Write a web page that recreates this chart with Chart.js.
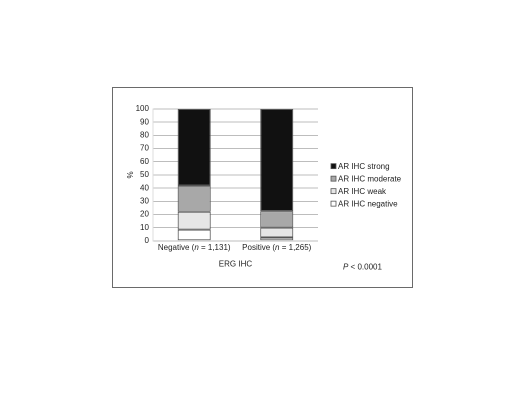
<!DOCTYPE html>
<html>
<head>
<meta charset="utf-8">
<script src="https://cdn.jsdelivr.net/npm/chart.js@4/dist/chart.umd.min.js"></script>
<style>
  html, body { margin: 0; padding: 0; background: #fff; }
  #wrap { position: relative; width: 520px; height: 402px; }
  #frame { position: absolute; left: 112px; top: 87px; width: 299px; height: 199px;
           border: 1.5px solid #6a6a6a; pointer-events: none; }
</style>
</head>
<body>
<div id="wrap">
  <canvas id="c"></canvas>
  <div id="frame"></div>
</div>
<script>
// ---- data ----
const categories = ['Negative (n = 1,131)', 'Positive (n = 1,265)'];
const seriesLabels = ['AR IHC negative', 'AR IHC weak', 'AR IHC moderate', 'AR IHC strong'];
const arNegative = [8.5, 2.5];
const arWeak = [13.5, 7.5];
const arModerate = [20, 12.5];
const arStrong = [58, 77.5];
const yTickStep = 10;
const yMax = 100;
const xTitle = 'ERG IHC';
const yTitle = '%';
const pValueText = '< 0.0001';

const FONT = "'Liberation Sans', Arial, Helvetica, sans-serif";
const TEXT = '#222';
const fills = ['#ffffff', '#e6e6e6', '#a8a8a8', '#111111'];
const seriesValues = [arNegative, arWeak, arModerate, arStrong];

const datasets = seriesLabels.map((lab, i) => ({
  label: lab,
  data: seriesValues[i],
  backgroundColor: fills[i],
  borderColor: '#555',
  borderWidth: 1,
  borderSkipped: false,
  barPercentage: 0.4,
  categoryPercentage: 1.0
}));

// custom legend + annotation + italic tick labels
const overlayPlugin = {
  id: 'overlay',
  afterDraw(chart) {
    const ctx = chart.ctx;
    const ca = chart.chartArea;
    ctx.save();
    ctx.textBaseline = 'middle';
    // x tick labels with italic n
    const xs = chart.scales.x;
    const ty = xs.top + 2 + 4.8;
    categories.forEach((lab, i) => {
      const px = xs.getPixelForValue(i);
      const m = lab.match(/^(.*\()(n)(.*)$/);
      const parts = m ? [[m[1], ''], [m[2], 'italic '], [m[3], '']] : [[lab, '']];
      let total = 0;
      parts.forEach(p => { ctx.font = p[1] + '8px ' + FONT; total += ctx.measureText(p[0]).width; });
      let x = px - total / 2;
      ctx.fillStyle = TEXT;
      ctx.textAlign = 'left';
      parts.forEach(p => { ctx.font = p[1] + '8px ' + FONT; ctx.fillText(p[0], x, ty); x += ctx.measureText(p[0]).width; });
    });
    // legend (reverse order: strong on top)
    const rows = chart.data.datasets.slice().reverse();
    const step = 12.5;
    const cy = (ca.top + ca.bottom) / 2 + 10;
    const y0 = cy - step * (rows.length - 1) / 2;
    const bx = ca.right + 13;
    ctx.font = '8px ' + FONT;
    rows.forEach((ds, i) => {
      const y = y0 + i * step;
      ctx.fillStyle = ds.backgroundColor;
      ctx.fillRect(bx, y - 2.5, 5, 5);
      ctx.strokeStyle = '#555';
      ctx.lineWidth = 0.8;
      ctx.strokeRect(bx, y - 2.5, 5, 5);
      ctx.fillStyle = TEXT;
      ctx.fillText(ds.label, bx + 7, y + 0.5);
    });
    // P value
    const px0 = ca.right + 25;
    const py = ca.bottom + 26.5;
    ctx.font = 'italic 8px ' + FONT;
    ctx.fillText('P', px0, py);
    const w = ctx.measureText('P ').width;
    ctx.font = '8px ' + FONT;
    ctx.fillText(pValueText, px0 + w, py);
    ctx.restore();
  }
};

new Chart(document.getElementById('c'), {
  type: 'bar',
  data: { labels: categories, datasets },
  plugins: [overlayPlugin],
  options: {
    responsive: true,
    maintainAspectRatio: false,
    animation: false,
    devicePixelRatio: 2,
    layout: { padding: { left: 126, top: 109, right: 202, bottom: 133 } },
    plugins: { legend: { display: false }, tooltip: { enabled: false } },
    scales: {
      x: {
        stacked: true,
        grid: { display: false, drawTicks: false },
        border: { display: false },
        ticks: { color: 'transparent', padding: 2, font: { family: FONT, size: 8 }, maxRotation: 0 },
        title: { display: true, text: xTitle, color: TEXT, font: { family: FONT, size: 8 }, padding: { top: 5, bottom: 0 } }
      },
      y: {
        stacked: true,
        min: 0,
        max: yMax,
        afterFit(scale) { scale.width -= 4; },
        grid: { color: '#bdbdbd', lineWidth: 1, drawTicks: false },
        border: { display: true, color: '#dcdcdc' },
        ticks: { stepSize: yTickStep, color: TEXT, padding: 4, font: { family: FONT, size: 8 } },
        title: { display: true, text: yTitle, color: TEXT, font: { family: FONT, size: 8 }, padding: { top: 0, bottom: 0 } }
      }
    }
  }
});
</script>
</body>
</html>
